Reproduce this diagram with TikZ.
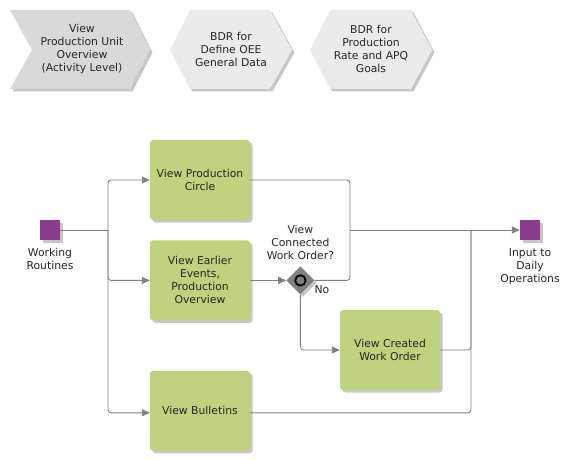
\documentclass[tikz,border=0pt]{standalone}
\usepackage{fontspec}
\setmainfont{DejaVu Sans}
\usetikzlibrary{arrows.meta,positioning,shapes.geometric,shadows}

\definecolor{taskgreen}{HTML}{BDD37E}
\definecolor{eventpurple}{HTML}{8A3D8E}
\definecolor{flowgray}{HTML}{808080}
\definecolor{chevgray}{HTML}{D9D9D9}
\definecolor{hexgray}{HTML}{EBEBEB}

\begin{document}
\begin{tikzpicture}[x=1pt,y=-1pt,>={Stealth[length=8pt,width=7pt,inset=0pt]},
    every node/.style={font=\fontsize{10.8}{13}\selectfont, text=black!85, align=center},
    shade/.style={drop shadow={shadow xshift=2.5pt,shadow yshift=-2.5pt,fill=black!22,opacity=1}},
    task/.style={rectangle, rounded corners=3pt, fill=taskgreen, minimum width=100pt, minimum height=80pt, shade},
    event/.style={rectangle, fill=eventpurple, minimum size=20pt, inner sep=0pt, shade},
    gate/.style={diamond, fill=flowgray, minimum width=28pt, minimum height=28pt, inner sep=0pt, shade},
    flow/.style={draw=flowgray, line width=0.9pt, rounded corners=3pt},
    chev/.style={fill=chevgray, shade},
    hexa/.style={fill=hexgray, shade}]
    \useasboundingbox (0,0) rectangle (579,460);

    % top process path
    \path[chev] (10,10) -- (130,10) -- (150,50) -- (130,89) -- (10,89) -- (32,50) -- cycle;
    \node (vpu) at (82,49) {View\\Production Unit\\Overview\\(Activity Level)};
    \path[hexa] (170,50) -- (190,10) -- (270,10) -- (292,50) -- (270,89) -- (190,89) -- cycle;
    \node (oee) at (231,49) {BDR for\\Define OEE\\General Data};
    \path[hexa] (310,50) -- (330,10) -- (411,10) -- (432,50) -- (411,89) -- (330,89) -- cycle;
    \node (apq) at (371,49) {BDR for\\Production\\Rate and APQ\\Goals};

    % main flow
    \node[event] (wr) at (50,230) {};
    \node (wrl) [below=5pt of wr] {Working\\Routines};
    \node[task] (vpc) at (200,180) {View Production\\Circle};
    \node[task] (vee) [below=20pt of vpc] {View Earlier\\Events,\\Production\\Overview};
    \node[task] (vb) [below=50pt of vee] {View Bulletins};
    \node[gate] (gw) [right=36pt of vee] {};
    \draw[black, line width=1.8pt, fill=flowgray] (gw.center) circle (5.2pt);
    \node (gwl) [above=3pt of gw] {View\\Connected\\Work Order?};
    \node (no) at (322,290) {No};
    \node[task] (vcwo) at (390,350) {View Created\\Work Order};
    \node[event] (in) at (530,230) {};
    \node (inl) [below=5pt of in] {Input to\\Daily\\Operations};

    \coordinate (split) at (108,230);
    \coordinate (join1) at (350,230);
    \coordinate (join2) at (471,230);

    \draw[flow] (wr) -- (split);
    \draw[flow,->] (split) |- (vpc);
    \draw[flow,->] (split) |- (vee);
    \draw[flow,->] (split) |- ([yshift=-2pt]vb.west);
    \draw[flow,->] (vee) -- (gw);
    \draw[flow] (vpc) -| (join1);
    \draw[flow] (gw) -| (join1);
    \draw[flow,->] (join1) -- (in);
    \draw[flow,->] (gw) |- (vcwo);
    \draw[flow] (vcwo) -| (join2);
    \draw[flow] ([yshift=-2pt]vb.east) -| (join2);
\end{tikzpicture}
\end{document}
